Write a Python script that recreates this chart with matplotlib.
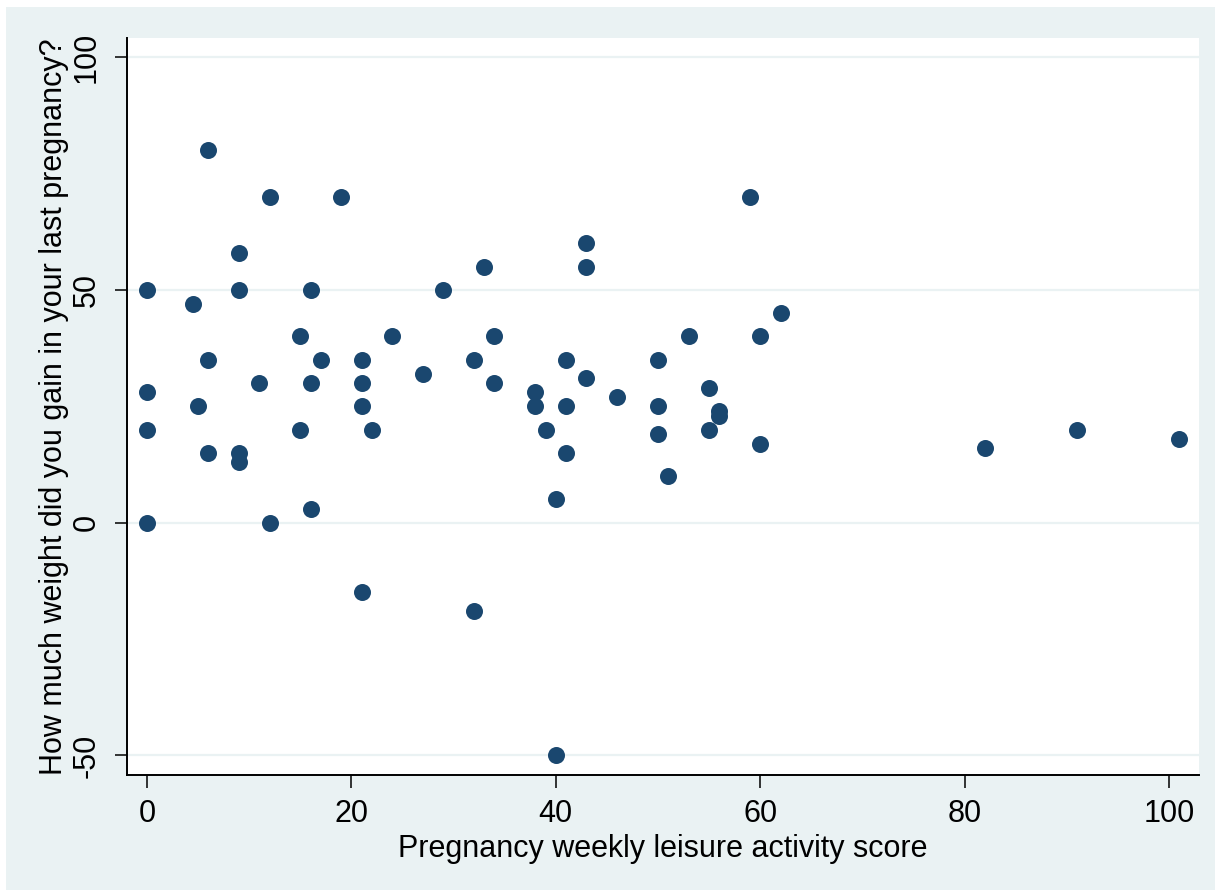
import numpy as np
import matplotlib.pyplot as plt
from matplotlib.patches import Rectangle

# leisure activity score vs weight gained
activity = [0, 0, 0, 0, 6, 4.5, 5, 6, 6, 9, 9, 9, 9, 11, 12, 12, 15, 15,
            16, 16, 16, 17, 19, 21, 21, 21, 21, 22, 24, 27, 29, 32, 32, 33,
            34, 34, 38, 38, 39, 40, 40, 41, 41, 41, 43, 43, 43, 46, 50, 50,
            50, 51, 53, 55, 55, 56, 56, 59, 60, 60, 62, 82, 91, 101]
weight_gain = [50, 28, 20, 0, 80, 47, 25, 35, 15, 58, 50, 15, 13, 30, 70, 0,
               40, 20, 50, 30, 3, 35, 70, 35, 30, 25, -15, 20, 40, 32, 50,
               35, -19, 55, 40, 30, 28, 25, 20, 5, -50, 35, 25, 15, 60, 55,
               31, 27, 35, 25, 19, 10, 40, 29, 20, 24, 23, 70, 40, 17, 45,
               16, 20, 18]

x_ticks = [0, 20, 40, 60, 80, 100]
y_ticks = [-50, 0, 50, 100]
x_title = "Pregnancy weekly leisure activity score"
y_title = "How much weight did you gain in your last pregnancy?"

navy = "#1a476f"
bg = "#eaf2f3"
fsize = 22

plt.rcParams['font.family'] = ['Liberation Sans', 'DejaVu Sans']

fig = plt.figure(figsize=(12.15, 8.9), dpi=100)
fig.patch.set_facecolor("white")
# Stata-like graph region
fig.patches.append(Rectangle((6 / 1215, 0), 1, 1 - 7 / 890,
                             transform=fig.transFigure, facecolor=bg,
                             edgecolor="none", zorder=-10))

ax = fig.add_axes([127 / 1215, 1 - 775 / 890, 1072 / 1215, 737 / 890])
ax.set_facecolor("white")

ax.scatter(activity, weight_gain, s=150, color=navy, linewidths=0, zorder=3)

ax.set_xlim(-1.96, 102.94)
ax.set_ylim(-54.2, 104.1)
ax.set_xticks(x_ticks)
ax.set_yticks(y_ticks)
ax.set_yticklabels([str(v) for v in y_ticks], rotation=90, va="center")

for y in y_ticks:
    ax.axhline(y, color=bg, lw=1.6, zorder=1)

for side in ["top", "right"]:
    ax.spines[side].set_visible(False)
for side in ["left", "bottom"]:
    ax.spines[side].set_linewidth(1.4)
    ax.spines[side].set_color("black")

ax.tick_params(axis="both", direction="out", length=9, width=1.1,
               labelsize=fsize)
ax.tick_params(axis="x", pad=8)
ax.tick_params(axis="y", pad=9)

ax.set_xlabel(x_title, fontsize=fsize, labelpad=4)
ax.set_ylabel(y_title, fontsize=fsize, labelpad=2)

fig.savefig("out.png", dpi=100)
